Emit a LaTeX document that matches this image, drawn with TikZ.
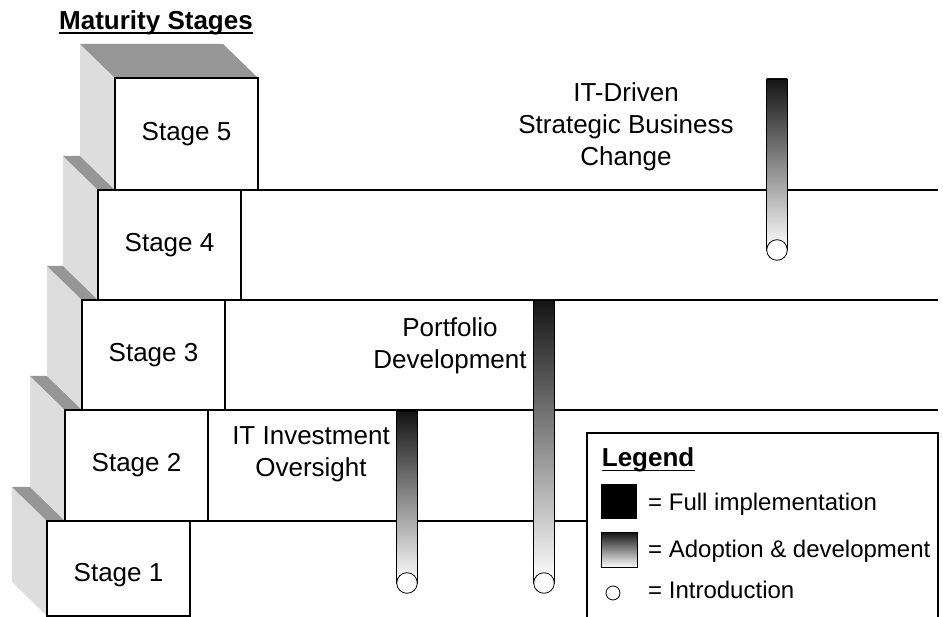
\documentclass[tikz,border=0pt]{standalone}
\usepackage{fontspec}
\setmainfont{Liberation Sans}
\usetikzlibrary{calc,backgrounds}
\definecolor{sidegray}{RGB}{221,221,221}
\definecolor{topgray}{RGB}{150,150,150}
\tikzset{
  stagebox/.style={draw, fill=white, line width=1.7pt, minimum width=143pt,
    minimum height=110pt, inner sep=0pt, outer sep=0pt,
    font=\fontsize{26}{31}\selectfont},
  sideface/.style={fill=sidegray},
  topface/.style={fill=topgray},
  rowline/.style={line width=1.7pt},
  bar/.style={top color=black!92, bottom color=white, draw=black, line width=0.8pt},
  barend/.style={draw=black, fill=white, line width=0.8pt},
  lbl/.style={font=\fontsize{26}{32}\selectfont, align=center, inner sep=0pt},
  legtxt/.style={font=\fontsize{24}{29}\selectfont, anchor=base west, inner sep=0pt},
  boldtxt/.style={font=\bfseries\fontsize{26}{31}\selectfont, anchor=base, inner sep=0pt},
  uline/.style={line width=1.8pt},
}
\newcommand{\stagefaces}[1]{%
  \fill[sideface] (#1.north west) -- ++(-35,-34) -- ($(#1.south west)+(-35,-34)$) -- (#1.south west) -- cycle;
  \fill[topface] (#1.north west) -- (#1.north east) -- ++(-35,-34) -- ($(#1.north west)+(-35,-34)$) -- cycle;
}
\begin{document}
\begin{tikzpicture}[x=1pt,y=-1pt]
\useasboundingbox (0,0) rectangle (943,617);
\clip (0,0) rectangle (943,617);

% stage front faces
\node[stagebox, minimum height=95pt] (s1) at (118.5,568.5) {};
\node[font=\fontsize{26}{31}\selectfont, inner sep=0pt] (s1t) at (118.5,575) {Stage 1};
\node[stagebox, minimum height=111pt] (s2) at (136.5,465.5) {Stage 2};
\node[stagebox] (s3) at (153.5,355) {Stage 3};
\node[stagebox] (s4) at (169.5,245) {Stage 4};
\node[stagebox, minimum height=112pt] (s5) at (186.5,134) {Stage 5};

% 3D faces behind
\begin{scope}[on background layer]
  \stagefaces{s1}
  \stagefaces{s2}
  \stagefaces{s3}
  \stagefaces{s4}
  \stagefaces{s5}
\end{scope}

% row lines
\coordinate (rx) at (938,0);
\draw[rowline] (s4.north east) -- (s4.north east -| rx);
\draw[rowline] (s3.north east) -- (s3.north east -| rx);
\draw[rowline] (s2.north east) -- (s2.north east -| rx);
\draw[rowline] (s1.north east) -- (s1.north east -| rx);

% title
\node[boldtxt] (title) at (156,30) {Maturity Stages};
\draw[uline] ($(title.base west)+(0,3)$) -- ($(title.base east)+(0,3)$);

% labels
\node[lbl] (t5) at (626,126.5) {IT-Driven\\Strategic Business\\Change};
\node[lbl] (t3) at (450,346) {Portfolio\\Development};
\node[lbl] (t2) at (311,454.5) {IT Investment\\Oversight};

% bars
\coordinate (b1t) at (407,411.5); \coordinate (b1b) at (407,583);
\coordinate (b2t) at (544,300);   \coordinate (b2b) at (544,583);
\coordinate (b3t) at (777,79);    \coordinate (b3b) at (777,250);
\shade[bar] ($(b1t)+(-10.3,0)$) rectangle ($(b1b)+(10.3,0)$);
\draw[barend] (b1b) circle (10.3);
\shade[bar] ($(b2t)+(-10.3,0)$) rectangle ($(b2b)+(10.3,0)$);
\draw[barend] (b2b) circle (10.3);
\shade[bar] ($(b3t)+(-10.3,0)$) rectangle ($(b3b)+(10.3,0)$);
\draw[barend] (b3b) circle (10.3);

% legend
\node[draw, fill=white, line width=1.7pt, minimum width=351pt, minimum height=220pt,
      anchor=north west, inner sep=0pt, outer sep=0pt] (legend) at (587,433) {};
\node[boldtxt, anchor=base west] (lt) at (601.7,467) {Legend};
\draw[uline] ($(lt.base west)+(0,3.5)$) -- ($(lt.base east)+(0,3.5)$);
\node[fill=black, minimum width=36pt, minimum height=35pt, inner sep=0pt,
      anchor=north west] (k1) at (601,484) {};
\node[legtxt] (k1t) at (648,510.5) {= Full implementation};
\node[top color=black!92, bottom color=white, draw=black, line width=0.8pt,
      minimum width=36pt, minimum height=35pt, inner sep=0pt,
      anchor=north west] (k2) at (601,532) {};
\node[legtxt] (k2t) at (648,557) {= Adoption \& development};
\node[circle, draw=black, line width=0.8pt, minimum size=14pt, inner sep=0pt] (k3) at (613,593) {};
\node[legtxt] (k3t) at (648,598) {= Introduction};
\end{tikzpicture}
\end{document}
